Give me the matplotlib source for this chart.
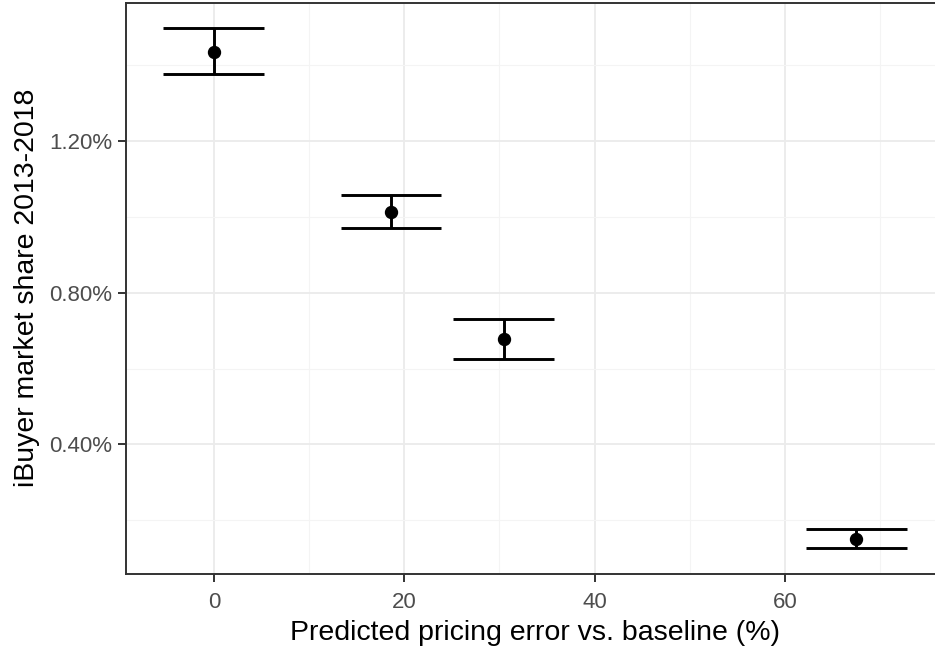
import numpy as np
import matplotlib
matplotlib.use("Agg")
import matplotlib.pyplot as plt
from matplotlib.ticker import FuncFormatter, MultipleLocator

# predicted pricing error vs. baseline (%) and iBuyer market share (fraction)
pricing_error = [0.0, 18.6, 30.45, 67.5]
share_mean = [0.01435, 0.01013, 0.00677, 0.00152]
share_low = [0.01375, 0.00971, 0.00626, 0.00127]
share_high = [0.01496, 0.01058, 0.00730, 0.00178]
bar_halfwidth = 5.3

x = np.array(pricing_error)
lo = np.array(share_low)
hi = np.array(share_high)

plt.rcParams['font.family'] = ['Liberation Sans', 'DejaVu Sans']

fig = plt.figure(figsize=(9.35, 6.5), dpi=100)
# panel runs past the right edge of the picture, as in the cropped reference
ax = fig.add_axes([126.3 / 935, (650 - 574) / 650, (944 - 126.3) / 935, (574 - 2.5) / 650])

# ggplot-like limits: data range expanded by 5 %
xmin, xmax = (x - bar_halfwidth).min(), (x + bar_halfwidth).max()
ymin, ymax = lo.min(), hi.max()
ax.set_xlim(xmin - 0.05 * (xmax - xmin), xmax + 0.05 * (xmax - xmin))
ax.set_ylim(ymin - 0.05 * (ymax - ymin), ymax + 0.05 * (ymax - ymin))

ax.xaxis.set_major_locator(MultipleLocator(20))
ax.xaxis.set_minor_locator(MultipleLocator(10))
ax.yaxis.set_major_locator(MultipleLocator(0.004))
ax.yaxis.set_minor_locator(MultipleLocator(0.002))
ax.yaxis.set_major_formatter(FuncFormatter(lambda v, p: f"{v * 100:.2f}%"))

ax.grid(which='major', color='#EBEBEB', lw=1.3)
ax.grid(which='minor', color='#F4F4F4', lw=0.8)
ax.set_axisbelow(True)

ax.vlines(x, lo, hi, color='black', lw=2.1, zorder=3)
ax.hlines(lo, x - bar_halfwidth, x + bar_halfwidth, color='black', lw=2.1, zorder=3)
ax.hlines(hi, x - bar_halfwidth, x + bar_halfwidth, color='black', lw=2.1, zorder=3)
ax.plot(x, share_mean, 'o', color='black', ms=8.6, zorder=4)

for s in ax.spines.values():
    s.set_color('#333333')
    s.set_linewidth(1.4)

ax.tick_params(which='major', length=6, width=1.4, color='#333333',
               labelsize=16, labelcolor='#4D4D4D', pad=4)
ax.tick_params(axis='x', which='major', pad=7)
ax.tick_params(which='minor', length=0)

ax.set_xlabel('Predicted pricing error vs. baseline (%)', fontsize=20.5, labelpad=5)
ax.set_ylabel('iBuyer market share 2013-2018', fontsize=20.5, labelpad=7)

fig.savefig('out.png', dpi=100)
